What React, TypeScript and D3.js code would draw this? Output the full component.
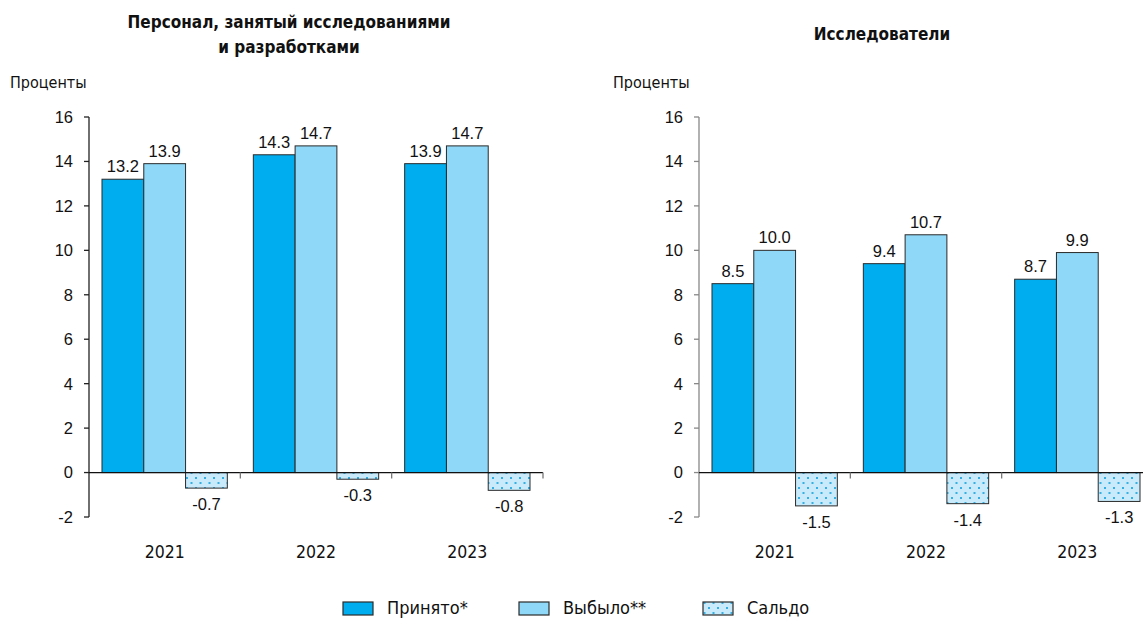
import React from "react";
import * as d3 from "d3";

const years = ["2021", "2022", "2023"];
const seriesNames = ["Принято*", "Выбыло**", "Сальдо"];

// Персонал, занятый исследованиями и разработками
const staffHired = [13.2, 14.3, 13.9];
const staffLeft = [13.9, 14.7, 14.7];
const staffBalance = [-0.7, -0.3, -0.8];

// Исследователи
const researchersHired = [8.5, 9.4, 8.7];
const researchersLeft = [10.0, 10.7, 9.9];
const researchersBalance = [-1.5, -1.4, -1.3];

const yTicks = [-2, 0, 2, 4, 6, 8, 10, 12, 14, 16];

const W = 1143;
const H = 619;
const colors = ["#00aeef", "#8fd8f7", "url(#dots)"];
const numFont = "'Liberation Sans Narrow', 'Liberation Sans', Arial, sans-serif";
const textFont = "'DejaVu Sans Condensed', 'DejaVu Sans', sans-serif";

const y = d3.scaleLinear().domain([-2, 16]).range([517, 117]);

type PanelProps = {
  x0: number;
  x1: number;
  titleLines: string[];
  titleX: number;
  titleY: number;
  unitX: number;
  yAxisColor: string;
  series: number[][];
};

function Panel({ x0, x1, titleLines, titleX, titleY, unitX, yAxisColor, series }: PanelProps) {
  const xCat = d3.scaleBand<string>().domain(years).range([x0, x1]);
  const bw = xCat.bandwidth();
  const xSer = d3.scaleBand<string>().domain(seriesNames).range([13, bw - 13]);
  const y0 = y(0);
  return (
    <g>
      {titleLines.map((t, i) => (
        <text
          key={t}
          x={titleX}
          y={titleY + i * 25}
          textAnchor="middle"
          fontFamily={textFont}
          fontWeight="bold"
          fontSize={17}
          fill="#111"
        >
          {t}
        </text>
      ))}
      <text x={unitX} y={88} fontFamily={textFont} fontSize={16} fill="#111">
        Проценты
      </text>
      {/* value axis */}
      <line x1={x0} x2={x0} y1={y(16)} y2={y(-2)} stroke={yAxisColor} strokeWidth={1.3} />
      {yTicks.map((t) => (
        <g key={t}>
          <line x1={x0 - 5} x2={x0} y1={y(t)} y2={y(t)} stroke={yAxisColor} strokeWidth={1.3} />
          <text
            x={x0 - 16}
            y={y(t)}
            dy="0.36em"
            textAnchor="end"
            fontFamily={numFont}
            fontSize={16.5}
            fill="#111"
          >
            {t}
          </text>
        </g>
      ))}
      {/* bars */}
      {years.map((yr, ci) =>
        seriesNames.map((s, si) => {
          const v = series[si][ci];
          const bx = (xCat(yr) as number) + (xSer(s) as number);
          const top = Math.min(y(v), y0);
          const h = Math.abs(y(v) - y0);
          const cx = bx + xSer.bandwidth() / 2;
          return (
            <g key={yr + s}>
              <rect
                x={bx}
                y={top}
                width={xSer.bandwidth()}
                height={h}
                fill={colors[si]}
                stroke="#2a2a2a"
                strokeWidth={1}
              />
              <text
                x={cx}
                y={v >= 0 ? y(v) - 7 : y(v) + 22}
                textAnchor="middle"
                fontFamily={numFont}
                fontSize={16.5}
                fill="#111"
              >
                {v.toFixed(1)}
              </text>
            </g>
          );
        })
      )}
      {/* category axis */}
      <line x1={x0} x2={x1} y1={y0} y2={y0} stroke="#111" strokeWidth={1.3} />
      {years.slice(1).map((yr) => (
        <line
          key={yr}
          x1={xCat(yr)}
          x2={xCat(yr)}
          y1={y0}
          y2={y0 + 6}
          stroke="#777"
          strokeWidth={1.3}
        />
      ))}
      <line x1={x1} x2={x1} y1={y0} y2={y0 + 6} stroke="#777" strokeWidth={1.3} />
      {years.map((yr) => (
        <text
          key={yr}
          x={(xCat(yr) as number) + bw / 2}
          y={558}
          textAnchor="middle"
          fontFamily={textFont}
          fontSize={17.5}
          fill="#111"
        >
          {yr}
        </text>
      ))}
    </g>
  );
}

export default function App() {
  const legendX = [343, 519, 703];
  return (
    <div style={{ position: "absolute", left: 0, top: 0 }}>
      <svg width={W} height={H} style={{ display: "block", background: "#fff" }}>
        <defs>
          <pattern id="dots" width={9} height={10} patternUnits="userSpaceOnUse">
            <rect width={9} height={10} fill="#c8eafa" />
            <rect x={1.5} y={2} width={2} height={2} fill="#35aee3" />
            <rect x={6} y={7} width={2} height={2} fill="#35aee3" />
          </pattern>
        </defs>
        <Panel
          x0={89}
          x1={543}
          titleLines={["Персонал, занятый исследованиями", "и разработками"]}
          titleX={289}
          titleY={28}
          unitX={10}
          yAxisColor="#222"
          series={[staffHired, staffLeft, staffBalance]}
        />
        <Panel
          x0={699}
          x1={1153}
          titleLines={["Исследователи"]}
          titleX={882}
          titleY={40}
          unitX={613}
          yAxisColor="#888"
          series={[researchersHired, researchersLeft, researchersBalance]}
        />
        {seriesNames.map((s, i) => (
          <g key={s}>
            <rect
              x={legendX[i]}
              y={602}
              width={30}
              height={13}
              fill={colors[i]}
              stroke="#2a2a2a"
              strokeWidth={1.2}
            />
            <text
              x={legendX[i] + 44}
              y={614}
              fontFamily={textFont}
              fontSize={18}
              fill="#111"
            >
              {s}
            </text>
          </g>
        ))}
      </svg>
    </div>
  );
}
